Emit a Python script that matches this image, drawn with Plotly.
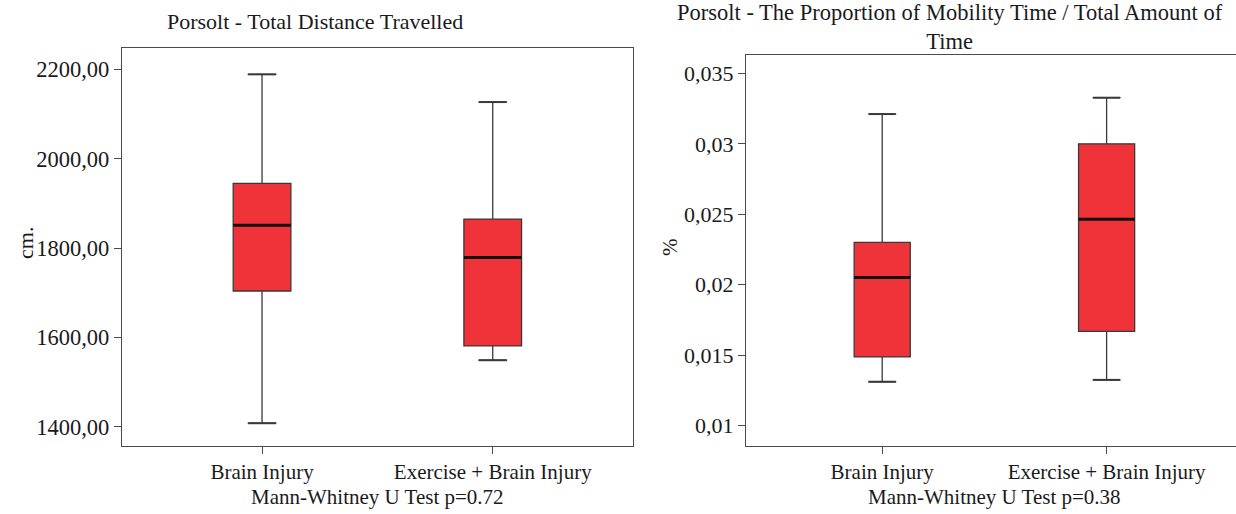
import plotly.graph_objects as go

# ---------------- data ----------------
categories = ["Brain Injury", "Exercise + Brain Injury"]

# Left panel: Total Distance Travelled (cm.)
dist_min = [1408, 1549]
dist_q1 = [1704, 1581]
dist_median = [1851, 1779]
dist_q3 = [1945, 1865]
dist_max = [2189, 2127]
dist_ticks = [1400, 1600, 1800, 2000, 2200]
dist_ticktext = ["1400,00", "1600,00", "1800,00", "2000,00", "2200,00"]

# Right panel: Proportion of mobility time (%)
prop_min = [0.01312, 0.01325]
prop_q1 = [0.01488, 0.01669]
prop_median = [0.02052, 0.02465]
prop_q3 = [0.02301, 0.03000]
prop_max = [0.03211, 0.03327]
prop_ticks = [0.01, 0.015, 0.02, 0.025, 0.03, 0.035]
prop_ticktext = ["0,01", "0,015", "0,02", "0,025", "0,03", "0,035"]

titles = ["Porsolt - Total Distance Travelled",
          "Porsolt - The Proportion of Mobility Time / Total Amount of<br>Time"]
ytitles = ["cm.", "%"]
subtitles = ["Mann-Whitney U Test p=0.72", "Mann-Whitney U Test p=0.38"]

# ---------------- style ----------------
W, H = 1236, 514
FONT = "Liberation Serif, Times New Roman, serif"
FILL = "#EF3339"
EDGE = "#3a3a3a"
FRAME = "#4a4a4a"
BOXW = 0.25
CAPW = 0.12

def px(x):
    return x / W

def py(y):
    return 1 - y / H

fig = go.Figure()

panels = [
    dict(xa="x", ya="y", mn=dist_min, q1=dist_q1, md=dist_median, q3=dist_q3, mx=dist_max),
    dict(xa="x2", ya="y2", mn=prop_min, q1=prop_q1, md=prop_median, q3=prop_q3, mx=prop_max),
]

for p in panels:
    xs = list(range(len(categories)))
    fig.add_trace(go.Box(
        x=xs, q1=p["q1"], median=p["md"], q3=p["q3"],
        lowerfence=p["mn"], upperfence=p["mx"],
        width=BOXW, fillcolor=FILL, line=dict(color=EDGE, width=1.3),
        boxpoints=False, xaxis=p["xa"], yaxis=p["ya"], showlegend=False,
        hoverinfo="skip",
    ))
    # whisker caps
    cx, cy = [], []
    for i in xs:
        for v in (p["mn"][i], p["mx"][i]):
            cx += [i - CAPW / 2, i + CAPW / 2, None]
            cy += [v, v, None]
    fig.add_trace(go.Scatter(x=cx, y=cy, mode="lines",
                             line=dict(color=EDGE, width=2),
                             xaxis=p["xa"], yaxis=p["ya"], showlegend=False,
                             hoverinfo="skip"))
    # thick median lines
    mx_, my_ = [], []
    for i in xs:
        mx_ += [i - BOXW / 2, i + BOXW / 2, None]
        my_ += [p["md"][i], p["md"][i], None]
    fig.add_trace(go.Scatter(x=mx_, y=my_, mode="lines",
                             line=dict(color="#111111", width=3),
                             xaxis=p["xa"], yaxis=p["ya"], showlegend=False,
                             hoverinfo="skip"))

axis_common = dict(showgrid=False, zeroline=False, showline=True,
                   linecolor=FRAME, linewidth=1.4, ticks="outside",
                   ticklen=7, tickwidth=1.2, tickcolor=FRAME)

fig.update_layout(
    width=W, height=H,
    margin=dict(l=0, r=0, t=0, b=0),
    paper_bgcolor="white", plot_bgcolor="white",
    font=dict(family=FONT, color="#1a1a1a"),
    xaxis=dict(domain=[px(122), px(633)], range=[-0.607, 1.608],
               tickvals=[0, 1], ticktext=categories, mirror=True,
               tickfont=dict(size=21), anchor="y", **axis_common),
    yaxis=dict(domain=[py(446), py(48)], range=[1357, 2248],
               tickvals=dist_ticks, ticktext=dist_ticktext, mirror=True,
               tickfont=dict(size=22.5), anchor="x", **axis_common),
    xaxis2=dict(domain=[px(746), 1.0], range=[-0.607, -0.607 + 490 / 224.4],
                tickvals=[0, 1], ticktext=categories, mirror=True,
                tickfont=dict(size=21), anchor="y2", **axis_common),
    yaxis2=dict(domain=[py(446), py(55)], range=[0.00856, 0.0363],
                tickvals=prop_ticks, ticktext=prop_ticktext, mirror=False,
                tickfont=dict(size=22), anchor="x2", **axis_common),
)

ann = [
    dict(text=titles[0], x=px(315), y=py(22), size=22),
    dict(text=titles[1], x=px(950), y=py(27), size=22.5),
    dict(text=subtitles[0], x=px(377), y=py(497), size=21),
    dict(text=subtitles[1], x=px(994), y=py(497), size=21),
]
for a in ann:
    fig.add_annotation(text=a["text"], x=a["x"], y=a["y"], xref="paper", yref="paper",
                       xanchor="center", yanchor="middle", showarrow=False,
                       font=dict(size=a["size"], family=FONT, color="#1a1a1a"))

fig.add_annotation(text=ytitles[0], x=px(25), y=py(243), xref="paper", yref="paper",
                   textangle=-90, showarrow=False, xanchor="center", yanchor="middle",
                   font=dict(size=22, family=FONT, color="#1a1a1a"))
fig.add_annotation(text=ytitles[1], x=px(670), y=py(247), xref="paper", yref="paper",
                   textangle=-90, showarrow=False, xanchor="center", yanchor="middle",
                   font=dict(size=21, family=FONT, color="#1a1a1a"))

fig.write_html("out.html", config={"displayModeBar": False},
               post_script="document.body.style.margin='0';document.body.style.overflow='hidden';")
